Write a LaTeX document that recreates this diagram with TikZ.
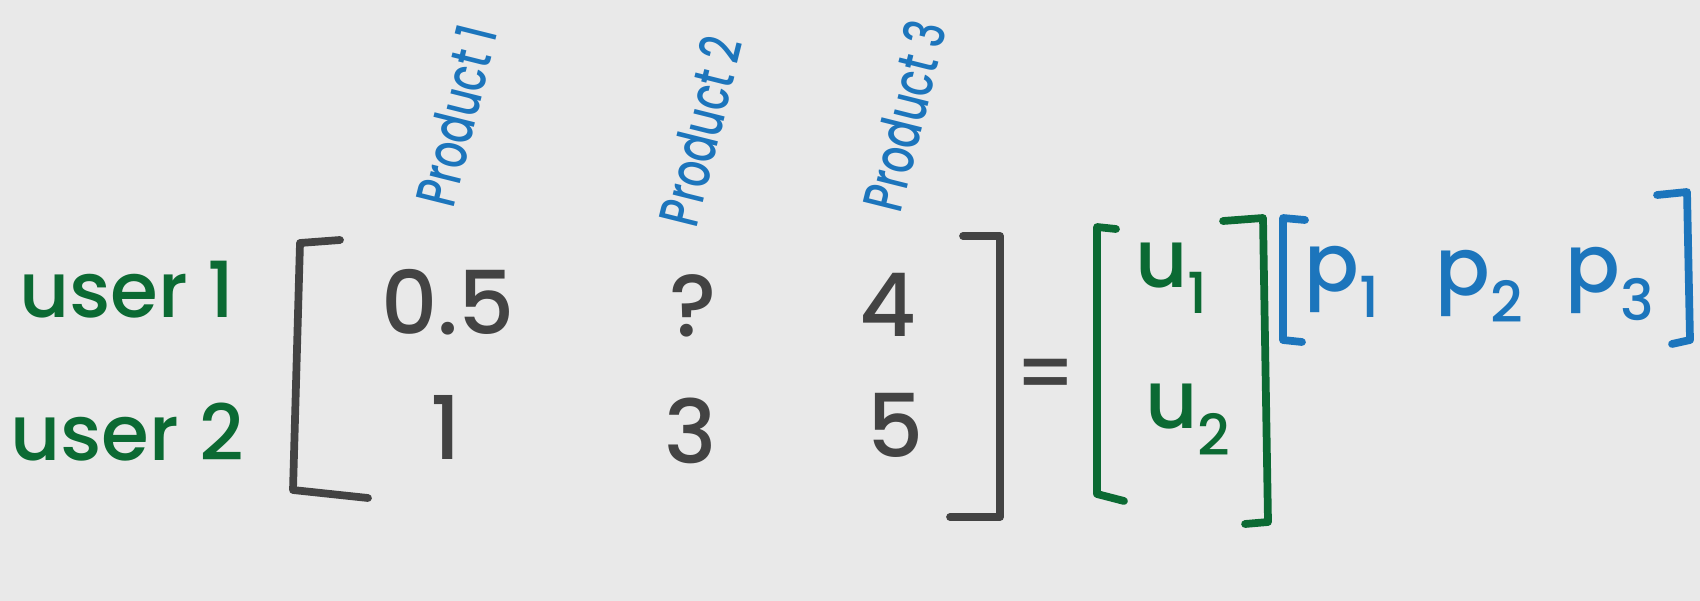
\documentclass[tikz,border=0pt]{standalone}
\usepackage{fontspec}
\setmainfont{Poppins}[BoldFont={* Medium}]
\usepackage{tikz}
\usetikzlibrary{calc}

\definecolor{paper}{HTML}{E9E9E9}
\definecolor{ink}{HTML}{434343}
\definecolor{usergreen}{HTML}{0B6A33}
\definecolor{prodblue}{HTML}{1C75BC}

\newcommand{\narrow}[1]{\scalebox{0.72}[1]{#1}}

\begin{document}
\begin{tikzpicture}[
            x=0.02cm, y=-0.02cm,
            entry/.style={text=ink, font=\fontsize{50}{52}\selectfont\bfseries, inner sep=0pt},
            user/.style={text=usergreen, font=\fontsize{44}{46}\selectfont\bfseries, inner sep=0pt},
            prod/.style={text=prodblue, font=\fontsize{32}{34}\selectfont\bfseries, inner sep=0pt, rotate=76},
            factor/.style={font=\fontsize{46}{48}\selectfont\bfseries, inner sep=0pt},
            brack/.style={line width=4.4pt, line cap=round, line join=round}
        ]
            \fill[paper] (0,0) rectangle (1700,601);
            \useasboundingbox (0,0) rectangle (1700,601);

            % rating matrix
            \node[user] (userA) at (127,290) {user 1};
            \node[user] (userB) at (127,432) {user 2};
            \node[entry] (e11) at (448,302) {0.5};
            \node[entry] (e12) at (693,306) {?};
            \node[entry] (e13) at (888,305) {4};
            \node[entry] (e21) at (446,427) {1};
            \node[entry] (e22) at (691,431) {3};
            \node[entry] (e23) at (896,425) {5};
            \draw[brack, ink] (340,240) -- (300,243) -- (293,490) -- (368,498);
            \draw[brack, ink] (963,236) -- (1000,236) -- (1000,517) -- (950,517);

            % Annotations
            \node[prod] (prodA) at (456,116) {\narrow{Product 1}};
            \node[prod] (prodB) at (700,131) {\narrow{Product 2}};
            \node[prod] (prodC) at (904,116) {\narrow{Product 3}};

            \node[factor, text=ink] (eq) at (1046,380) {=};

            % user factors
            \node[factor, text=usergreen] (uA) at (1172,278) {u\textsubscript{1}};
            \node[factor, text=usergreen] (uB) at (1188,420) {u\textsubscript{2}};
            \draw[brack, usergreen] (1116,229) -- (1097,227) -- (1097,494) -- (1124,501);
            \draw[brack, usergreen] (1223,221) -- (1263,218) -- (1268,522) -- (1245,524);

            % product factors
            \node[factor, text=prodblue] (pA) at (1342,282) {p\textsubscript{1}};
            \node[factor, text=prodblue] (pB) at (1480,286) {p\textsubscript{2}};
            \node[factor, text=prodblue] (pC) at (1610,284) {p\textsubscript{3}};
            \draw[brack, prodblue] (1305,220) -- (1283,218) -- (1283,340) -- (1302,342);
            \draw[brack, prodblue] (1657,195) -- (1687,192) -- (1690,340) -- (1672,344);
        \end{tikzpicture}
\end{document}
